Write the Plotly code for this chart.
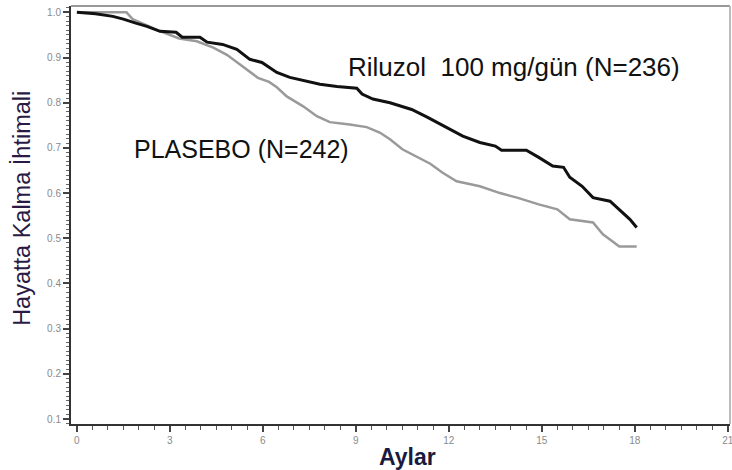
import plotly.graph_objects as go

# Riluzol 100 mg/gün (N=236)
riluzol_months = [0, 0.6, 1.16, 1.5, 1.9, 2.26, 2.68, 3.2, 3.4, 3.97, 4.2, 4.7, 5.16, 5.4, 5.58,
                  5.97, 6.2, 6.45, 6.87, 7.4, 7.84, 8.39, 9.03, 9.2, 9.55, 10.1, 10.5, 10.8, 11.3,
                  11.6, 12.0, 12.45, 13.0, 13.5, 13.7, 14.5, 14.9, 15.35, 15.7, 15.9, 16.3, 16.65,
                  17.2, 17.5, 17.84, 18.06]
riluzol_surv = [1.0, 0.997, 0.991, 0.985, 0.976, 0.969, 0.958, 0.956, 0.945, 0.945, 0.934, 0.929,
                0.918, 0.905, 0.896, 0.889, 0.878, 0.867, 0.856, 0.847, 0.841, 0.836, 0.832, 0.819,
                0.808, 0.800, 0.792, 0.785, 0.768, 0.757, 0.741, 0.726, 0.712, 0.704, 0.695, 0.695,
                0.679, 0.660, 0.657, 0.635, 0.615, 0.590, 0.582, 0.564, 0.542, 0.524]

# PLASEBO (N=242)
plasebo_months = [0, 1.6, 1.8, 2.3, 2.7, 3.3, 3.87, 4.4, 4.84, 5.35, 5.84, 6.2, 6.45, 6.77, 7.3,
                  7.74, 8.16, 8.8, 9.35, 9.77, 10.1, 10.5, 10.97, 11.4, 11.8, 12.25, 13.0, 13.65,
                  14.2, 14.9, 15.5, 15.9, 16.65, 16.97, 17.5, 18.06]
plasebo_surv = [1.0, 1.0, 0.985, 0.969, 0.958, 0.942, 0.936, 0.922, 0.906, 0.880, 0.855, 0.846,
                0.834, 0.814, 0.792, 0.770, 0.757, 0.752, 0.746, 0.734, 0.719, 0.697, 0.681, 0.665,
                0.645, 0.626, 0.615, 0.600, 0.590, 0.575, 0.564, 0.542, 0.535, 0.509, 0.482, 0.482]

x_ticks = [0, 3, 6, 9, 12, 15, 18, 21]
y_ticks = [0.1, 0.2, 0.3, 0.4, 0.5, 0.6, 0.7, 0.8, 0.9, 1.0]
y_ticklabels = ["0.1", "0.2", "0.3", "0.4", "0.5", "0.6", "0.7", "0.8", "0.9", "1.0"]

fig = go.Figure()
fig.add_trace(go.Scatter(x=plasebo_months, y=plasebo_surv, mode="lines",
                         line=dict(color="#9a9a9a", width=2.5), showlegend=False))
fig.add_trace(go.Scatter(x=riluzol_months, y=riluzol_surv, mode="lines",
                         line=dict(color="#111111", width=3), showlegend=False))

fig.update_layout(
    width=732, height=470,
    margin=dict(l=71, r=2, t=6, b=46),
    paper_bgcolor="white", plot_bgcolor="white",
    font=dict(family="Liberation Sans, Arial, sans-serif"),
    xaxis=dict(range=[-0.19, 21.07], tickvals=x_ticks, ticktext=[str(v) for v in x_ticks],
               showgrid=False, zeroline=False, showline=True, linecolor="#333", linewidth=2,
               mirror=False, ticks="outside", ticklen=6, tickwidth=1.5, tickcolor="#444",
               ticklabeloverflow="allow", automargin=False,
               tickfont=dict(size=10, color="#8a8a8a"),
               minor=dict(dtick=0.5, tick0=0, ticks="outside", ticklen=4, tickcolor="#555", tickwidth=1.2)),
    yaxis=dict(range=[0.089, 1.014], tickvals=y_ticks, ticktext=y_ticklabels,
               showgrid=False, zeroline=False, showline=True, linecolor="#333", linewidth=2,
               ticks="outside", ticklen=6, tickwidth=1.5, tickcolor="#444",
               automargin=False,
               tickfont=dict(size=10, color="#8a8a8a"),
               minor=dict(dtick=0.01, tick0=0, ticks="outside", ticklen=3, tickcolor="#666", tickwidth=1)),
    shapes=[
        dict(type="line", xref="paper", yref="paper", x0=0, x1=1, y0=1, y1=1,
             line=dict(color="#999", width=2)),
        dict(type="line", xref="paper", yref="paper", x0=1, x1=1, y0=0, y1=1,
             line=dict(color="#bbb", width=2)),
    ],
    annotations=[
        dict(text="Riluzol  100 mg/gün (N=236)", x=14.1, y=0.878, xref="x", yref="y",
             showarrow=False, xanchor="center", yanchor="middle",
             font=dict(size=26, color="#111")),
        dict(text="PLASEBO (N=242)", x=5.31, y=0.697, xref="x", yref="y",
             showarrow=False, xanchor="center", yanchor="middle",
             font=dict(size=25, color="#111")),
        dict(text="<b>Aylar</b>", x=0.51, y=-0.079, xref="paper", yref="paper",
             showarrow=False, xanchor="center", yanchor="middle",
             font=dict(size=23, color="#1a1a40")),
        dict(text="Hayatta Kalma İhtimali", x=-0.0744, y=0.517, xref="paper", yref="paper",
             showarrow=False, xanchor="center", yanchor="middle", textangle=-90,
             font=dict(size=23.5, color="#2a1a45")),
    ],
)

fig.write_html("out.html", config={"displayModeBar": False},
               post_script="document.body.style.margin='0';document.body.style.overflow='hidden';")
